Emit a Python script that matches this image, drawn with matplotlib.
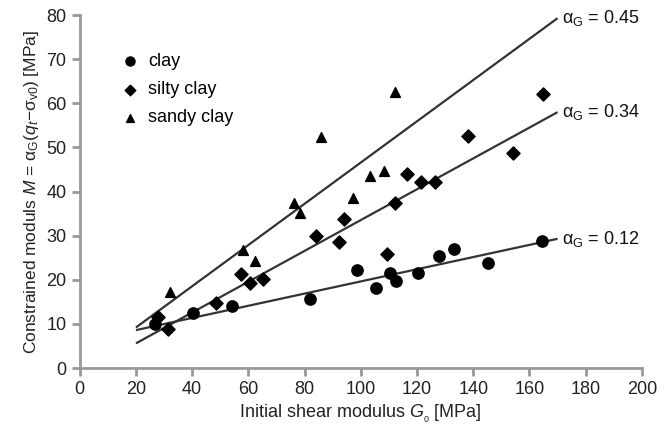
import numpy as np
import matplotlib.pyplot as plt

plt.rcParams['font.family'] = ['Liberation Sans', 'DejaVu Sans']
plt.rcParams['mathtext.fontset'] = 'custom'
plt.rcParams['mathtext.rm'] = 'Liberation Sans'
plt.rcParams['mathtext.it'] = 'Liberation Sans:italic'

# clay (circles)
clay_g = [26.7, 40.3, 54.3, 82.1, 98.5, 105.3, 110.3, 112.5, 120.2, 128, 133.2, 145.3, 164.3]
clay_m = [10.0, 12.5, 14.1, 15.6, 22.2, 18.1, 21.5, 19.8, 21.5, 25.5, 27.1, 23.9, 28.8]

# silty clay (diamonds)
silty_g = [27.9, 31.4, 48.6, 57.3, 60.5, 65.2, 84.2, 92.2, 94.0, 109.3, 112.2,
           116.3, 121.3, 126.3, 138.0, 154.0, 165.0]
silty_m = [11.5, 8.8, 14.8, 21.3, 19.2, 20.2, 29.9, 28.6, 33.8, 25.8, 37.4,
           44.0, 42.2, 42.2, 52.6, 48.8, 62.1]

# sandy clay (triangles)
sandy_g = [32.0, 58.0, 62.3, 76.2, 78.3, 86.0, 97.2, 103.2, 108.2, 112.1]
sandy_m = [17.2, 26.8, 24.3, 37.4, 35.1, 52.4, 38.5, 43.5, 44.7, 62.6]

# trend lines (end points)
line_labels = ['0.45', '0.34', '0.12']
line_g = [20, 170]
line_m = [[9.2, 79.3], [5.6, 58.0], [8.6, 29.3]]

fig = plt.figure(figsize=(6.7, 4.32), dpi=100)
ax = fig.add_axes([0.119, 0.148, 0.839, 0.817])

for lab, m in zip(line_labels, line_m):
    ax.plot(line_g, m, color='#333333', lw=1.6, solid_capstyle='butt', zorder=2)
    ax.text(line_g[1] + 1.5, m[1], r'α$_\mathrm{G}$ = ' + lab, fontsize=13,
            va='center', ha='left', color='#111111')

ax.scatter(clay_g, clay_m, marker='o', s=66, color='black', zorder=3, label='clay')
ax.scatter(silty_g, silty_m, marker='D', s=45, color='black', zorder=3, label='silty clay')
ax.scatter(sandy_g, sandy_m, marker='^', s=50, color='black', zorder=3, label='sandy clay')

ax.set_xlim(0, 200)
ax.set_ylim(0, 80)
ax.set_xticks(np.arange(0, 201, 20))
ax.set_yticks(np.arange(0, 81, 10))
ax.spines['top'].set_visible(False)
ax.spines['right'].set_visible(False)
for s in ['left', 'bottom']:
    ax.spines[s].set_color('#999999')
    ax.spines[s].set_linewidth(2)
ax.tick_params(colors='#999999', width=2, length=6, labelsize=13, labelcolor='#222222')

ax.set_xlabel(r'Initial shear modulus $G_{_0}$ [MPa]', fontsize=13, color='#222222', labelpad=3)
ax.set_ylabel(r'Constrained moduls $M$ = α$_\mathrm{G}$($q_t$−σ$_\mathrm{v0}$) [MPa]',
              fontsize=12.5, color='#222222', labelpad=4)

ax.legend(loc='upper left', bbox_to_anchor=(0.06, 0.913), frameon=False, fontsize=13,
          handlelength=1.0, handletextpad=0.5, labelspacing=0.62, borderaxespad=0,
          markerscale=0.8)

fig.savefig('out.png', dpi=100)
